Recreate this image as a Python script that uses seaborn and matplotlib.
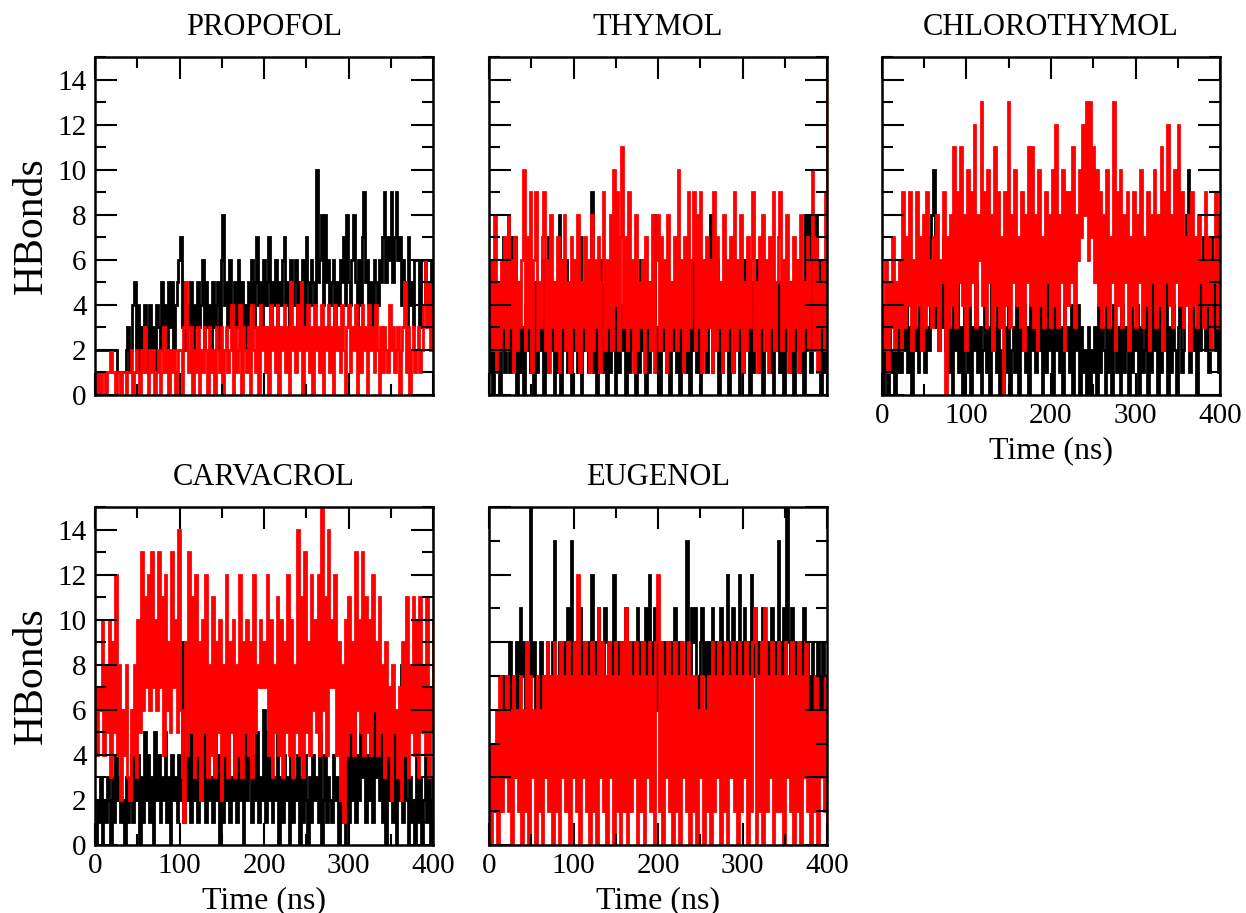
import numpy as np
import pandas as pd
import matplotlib
matplotlib.use("Agg")
import matplotlib.pyplot as plt
from matplotlib.ticker import MultipleLocator
import seaborn as sns

# Hydrogen-bond counts sampled every ~2 ns over 0-400 ns (black = set A, red = set B)
titles = ["PROPOFOL", "THYMOL", "CHLOROTHYMOL", "CARVACROL", "EUGENOL"]

propofol_black = [
    2,2,2,2,2,2,2,2,2,2, 2,2,2,1,1,1,1,1,2,3, 1,2,4,5,2,4,1,3,2,4, 3,1,4,2,3,1,4,3,2,5,
    3,4,2,5,3,5,2,4,5,6, 7,3,5,2,4,3,5,2,4,3, 5,3,4,6,2,5,3,4,2,5, 3,4,5,2,6,8,4,5,3,6,
    4,2,5,3,6,4,5,3,4,2, 5,4,6,3,5,7,4,5,3,6, 4,5,7,3,5,4,6,3,5,4, 6,7,4,5,3,6,4,5,6,3,
    5,4,6,3,7,5,4,6,5,4, 10,5,6,8,4,8,5,6,4,5, 6,3,5,4,6,5,7,4,8,5, 4,6,8,5,3,6,4,7,9,5,
    6,4,5,3,6,5,4,6,5,7, 9,5,7,6,9,5,7,9,6,7, 4,6,5,3,7,4,5,3,6,6, 6,3,6,6,4,6,6,6,3,6]
propofol_red = [
    1,0,1,0,1,1,0,1,1,2, 1,1,0,1,1,0,1,1,0,1, 1,2,0,1,2,1,0,2,1,3, 1,0,2,1,2,0,1,2,0,1,
    3,1,2,0,2,1,2,0,1,2, 2,0,3,5,2,1,3,0,2,1, 3,0,2,1,3,2,0,3,1,2, 0,3,2,1,3,0,2,3,1,2,
    4,0,3,1,2,4,0,3,2,1, 3,0,4,2,1,3,0,4,2,3, 1,3,0,4,2,3,1,4,0,3, 2,4,1,3,0,5,2,3,1,4,
    2,5,0,3,2,4,1,3,0,4, 2,3,1,4,0,3,2,4,1,3, 0,4,2,3,1,4,2,0,3,4, 1,3,2,4,0,3,1,4,2,3,
    0,4,2,3,1,4,2,0,3,1, 3,2,1,4,2,3,1,2,3,0, 2,3,5,1,3,0,2,3,1,2, 3,1,2,4,6,3,5,2,4,3]

thymol_black = [
    1,5,0,3,1,4,0,2,7,1, 3,8,1,7,2,7,0,5,1,3, 0,4,2,6,1,3,0,5,1,4, 2,6,0,3,1,7,2,4,0,5,
    1,8,0,4,2,6,1,3,0,5, 2,4,1,7,0,3,2,6,1,4, 9,1,5,0,3,2,6,1,4,0, 3,1,6,2,0,5,1,4,2,3,
    0,6,1,3,2,5,0,4,1,6, 2,3,0,5,1,4,2,8,1,3, 0,6,2,4,1,3,0,5,2,4, 1,6,0,3,2,5,1,4,0,6,
    2,3,1,5,0,4,2,6,1,3, 8,1,4,2,6,0,3,1,5,2, 4,0,6,1,3,2,5,0,4,1, 6,2,3,0,5,1,4,2,6,1,
    3,0,5,2,4,1,6,0,3,2, 5,1,4,0,6,2,3,1,5,0, 4,2,6,1,3,0,8,2,8,1, 8,3,8,2,6,0,4,1,6,3]
thymol_red = [
    3,6,2,8,1,5,2,6,3,7, 2,8,3,6,1,7,2,5,3,6, 10,2,7,3,9,1,6,9,2,5, 3,7,9,2,6,1,8,3,5,2,
    7,1,6,3,8,2,5,1,7,3, 6,2,8,1,5,3,7,2,6,1, 8,2,6,3,7,1,5,9,2,6, 3,8,2,10,4,9,2,7,11,3,
    7,2,9,3,6,1,8,2,5,3, 6,1,7,3,5,2,8,1,6,8, 2,7,3,6,1,8,2,5,3,7, 2,10,3,6,1,7,2,9,3,6,
    9,2,8,3,9,1,6,2,7,3, 6,1,9,2,7,3,5,1,8,2, 6,3,7,1,9,2,6,3,8,1, 5,2,7,3,6,9,2,5,1,7,
    3,8,2,6,1,7,3,9,2,5, 7,9,2,6,3,8,1,5,2,7, 3,6,1,8,2,5,3,7,2,6, 10,2,7,1,5,3,6,2,9,14]

chlorothymol_black = [
    0,2,1,0,3,1,2,0,3,1, 4,1,3,2,5,1,3,0,4,2, 3,1,5,2,4,1,3,2,7,8, 10,3,6,2,5,3,7,2,4,1,
    3,0,4,2,5,1,3,0,4,2, 1,4,0,3,2,5,1,3,0,2, 4,1,3,0,5,2,3,1,4,0, 2,0,3,1,4,0,2,3,1,5,
    0,3,2,4,1,3,0,4,2,5, 1,5,2,4,0,3,1,5,2,4, 0,5,2,5,1,3,0,4,2,3, 1,4,0,3,2,4,0,3,1,2,
    0,3,0,2,1,3,0,4,1,3, 2,0,4,1,3,0,4,2,1,3, 0,4,1,3,2,0,4,1,3,2, 4,0,3,1,2,4,0,3,1,5,
    2,3,0,4,1,3,2,5,0,3, 1,4,2,0,3,5,1,2,4,8, 10,1,4,2,3,0,5,2,4,7, 2,5,1,7,3,6,2,8,1,4]
chlorothymol_red = [
    4,2,6,1,5,3,7,2,5,3, 6,2,9,3,7,4,9,2,6,3, 9,4,7,2,8,3,9,4,6,3, 7,4,8,2,6,5,9,0,7,3,
    8,4,11,3,9,5,11,4,8,2, 10,4,9,5,12,3,8,6,13,4, 9,3,10,5,8,2,11,4,9,3, 7,0,9,4,13,3,8,5,10,4,
    7,3,9,2,8,5,11,4,11,3, 8,2,10,4,7,3,9,5,8,3, 10,4,12,3,8,5,10,2,9,4, 9,5,11,3,8,6,10,7,12,8,
    13,6,13,7,11,5,10,4,9,3, 8,4,10,3,7,5,13,2,9,4, 10,3,8,5,9,2,7,4,9,3, 8,5,10,3,7,4,9,2,8,5,
    10,3,8,4,11,2,9,5,12,4, 8,3,10,5,12,4,9,3,7,4, 8,2,9,4,7,3,8,5,6,3, 9,4,7,2,6,5,9,3,6,4]

carvacrol_black = [
    0,2,1,3,0,2,1,3,2,0, 3,1,4,2,3,1,2,0,3,1, 2,4,1,5,2,4,0,3,1,5, 2,4,1,3,0,5,2,4,1,3,
    2,5,1,3,0,4,2,3,1,4, 2,9,1,4,2,6,1,5,2,4, 1,5,3,2,6,1,4,2,3,1, 5,2,4,0,3,1,4,2,6,1,
    3,2,5,1,4,2,3,0,6,2, 6,3,1,4,2,5,1,3,2,6, 1,5,2,4,1,3,2,5,0,3, 1,4,2,3,0,5,1,3,2,4,
    0,3,1,4,2,0,3,1,4,2, 3,1,5,0,2,4,1,3,2,1, 4,2,3,0,2,1,3,0,4,1, 5,2,6,1,4,2,5,3,6,1,
    4,2,5,1,6,3,4,2,5,1, 3,0,4,2,3,1,5,0,3,2, 8,1,4,2,0,3,1,2,0,4, 1,3,0,2,4,1,3,0,2,3]
carvacrol_red = [
    7,4,7,6,10,4,8,5,10,3, 9,5,12,4,8,2,6,4,8,3, 2,6,4,8,3,10,5,13,6,11, 7,12,6,13,7,10,6,13,7,11,
    4,12,6,9,5,13,7,10,5,14, 6,3,1,9,4,13,5,11,3,12, 4,9,2,10,5,12,3,8,4,11, 3,9,5,10,2,8,4,12,3,9,
    5,10,3,8,4,12,3,9,5,10, 4,9,3,12,5,8,7,10,7,9, 7,12,4,10,3,8,5,11,4,10, 3,9,5,12,4,10,3,8,5,14,
    4,11,3,13,5,9,4,12,6,10, 5,12,4,15,6,11,4,14,7,10, 7,12,4,9,2,8,1,10,4,11, 5,9,4,13,6,10,5,13,4,11,
    5,10,4,12,6,9,4,11,5,8, 3,9,4,7,2,8,5,6,3,7, 2,9,4,11,3,8,5,11,4,10, 3,11,5,8,4,11,3,7,5,10]

eugenol_black = [
    2,3,1,3,2,4,1,5,3,4, 5,3,6,4,5,2,6,4,7,5, 6,4,5,3,10,5,6,4,5,3, 6,4,5,3,6,5,4,6,9,5,
    4,6,5,3,6,4,7,5,9,6, 4,6,5,7,4,6,3,5,6,4, 8,5,6,4,7,5,6,3,7,6, 4,6,5,8,4,6,5,3,6,5,
    7,4,6,5,3,6,5,7,4,6, 6,5,7,4,8,6,5,7,6,4, 6,5,3,6,4,5,6,4,5,7, 5,4,6,3,5,4,9,6,5,7,
    6,7,5,4,6,7,5,6,4,6, 5,7,6,4,6,5,7,4,6,5, 8,6,5,7,4,6,5,8,6,4, 7,5,6,4,8,5,7,6,4,6,
    5,7,6,4,6,5,7,4,6,5, 9,6,5,7,4,10,6,5,7,4, 6,5,4,6,5,7,4,6,5,4, 6,5,4,6,5,4,6,5,4,4]
eugenol_red = [
    3,0,3,1,4,0,5,1,4,2, 5,1,4,0,5,2,4,1,5,0, 4,1,6,0,5,2,4,0,5,1, 4,0,5,2,6,1,5,0,6,1,
    5,0,6,2,5,1,6,0,5,2, 6,1,8,0,5,2,6,1,5,0, 6,1,5,0,7,2,6,1,5,0, 6,2,5,0,6,1,5,0,6,1,
    7,0,6,1,5,2,6,0,5,1, 6,0,5,2,6,1,5,0,6,8, 1,6,0,5,2,6,1,5,0,6, 1,5,0,6,2,5,1,6,0,5,
    1,5,0,4,2,5,0,4,1,5, 0,6,1,5,2,6,0,5,1,6, 0,5,2,6,1,5,0,6,1,5, 2,6,0,5,1,6,7,0,5,1,
    6,0,7,1,5,2,6,0,5,1, 6,1,5,0,6,2,5,1,6,0, 5,1,6,0,5,2,6,1,4,0, 4,1,5,0,4,2,4,1,5,0]

series = {
    "PROPOFOL": (propofol_black, propofol_red),
    "THYMOL": (thymol_black, thymol_red),
    "CHLOROTHYMOL": (chlorothymol_black, chlorothymol_red),
    "CARVACROL": (carvacrol_black, carvacrol_red),
    "EUGENOL": (eugenol_black, eugenol_red),
}
y_limits = {"PROPOFOL": 15, "THYMOL": 15, "CHLOROTHYMOL": 15, "CARVACROL": 15, "EUGENOL": 10}
x_ticks = [0, 100, 200, 300, 400]
y_ticks = [0, 2, 4, 6, 8, 10, 12, 14]

sns.set_style("ticks")
plt.rcParams["font.family"] = ["Liberation Serif", "DejaVu Serif"]
plt.rcParams.update({
    "axes.linewidth": 1.8,
    "text.color": "black",
    "axes.labelcolor": "black",
    "xtick.color": "black",
    "ytick.color": "black",
})

W, H = 1246, 913
fig = plt.figure(figsize=(W / 100, H / 100), dpi=100)

# panel boxes in pixels: (left, top)
boxes = {
    "PROPOFOL": (95, 57), "THYMOL": (489, 57), "CHLOROTHYMOL": (882, 57),
    "CARVACROL": (95, 507), "EUGENOL": (489, 507),
}
pw, ph = 338, 338
show_xlabels = {"CHLOROTHYMOL", "CARVACROL", "EUGENOL"}
show_ylabels = {"PROPOFOL", "CARVACROL"}
line_kw = dict(drawstyle="steps-post", lw=2.0, estimator=None,
               solid_joinstyle="miter", solid_capstyle="butt", alpha=1.0)

for name in titles:
    left, top = boxes[name]
    ax = fig.add_axes([left / W, 1 - (top + ph) / H, pw / W, ph / H])
    black, red = series[name]
    df_black = pd.DataFrame({"t": np.linspace(0, 400, len(black)), "hb": black})
    df_red = pd.DataFrame({"t": np.linspace(0, 400, len(red)), "hb": red})
    sns.lineplot(data=df_black, x="t", y="hb", color="#000000", ax=ax, **line_kw)
    sns.lineplot(data=df_red, x="t", y="hb", color="#ff0000", ax=ax, **line_kw)

    ax.set_xlim(0, 400)
    ax.set_ylim(0, y_limits[name])
    ax.xaxis.set_major_locator(MultipleLocator(100))
    ax.xaxis.set_minor_locator(MultipleLocator(50))
    ax.yaxis.set_major_locator(MultipleLocator(2))
    ax.yaxis.set_minor_locator(MultipleLocator(1))
    ax.tick_params(which="major", direction="in", length=16, width=1.5,
                   top=True, right=True, labelsize=21, pad=6, colors="black")
    ax.tick_params(which="minor", direction="in", length=8, width=1.5,
                   top=True, right=True, colors="black")
    ax.set_axisbelow(False)
    for sp in ax.spines.values():
        sp.set_linewidth(1.8)
        sp.set_color("black")
        sp.set_zorder(3)

    ax.set_title(name, fontsize=22, pad=16, color="black")
    if name in show_xlabels:
        ax.set_xticks(x_ticks)
        ax.set_xticklabels([str(v) for v in x_ticks])
        ax.set_xlabel("Time (ns)", fontsize=23, labelpad=5)
    else:
        ax.tick_params(axis="x", labelbottom=False)
        ax.set_xlabel("")
    if name in show_ylabels:
        ax.set_yticks(y_ticks)
        ax.set_yticklabels([str(v) for v in y_ticks])
        ax.set_ylabel("HBonds", fontsize=30, labelpad=5)
    else:
        ax.tick_params(axis="y", labelleft=False)
        ax.set_ylabel("")

fig.savefig("out.png", dpi=100, facecolor="white")
